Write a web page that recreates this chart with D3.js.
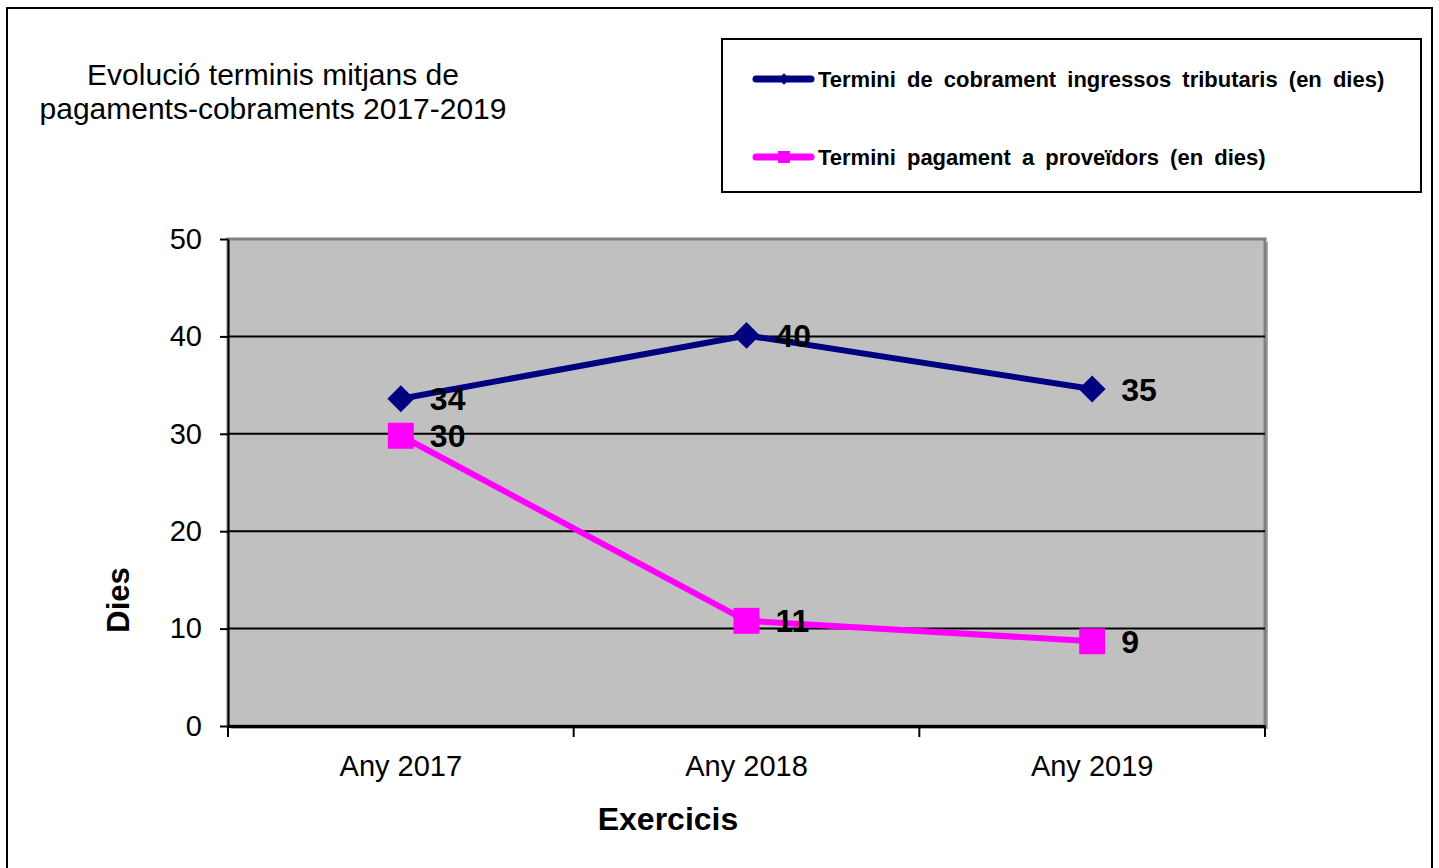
<!DOCTYPE html>
<html>
<head>
<meta charset="utf-8">
<script src="https://cdnjs.cloudflare.com/ajax/libs/d3/7.8.5/d3.min.js"></script>
<style>
  body { margin: 0; background: #fff; }
  svg { display: block; font-family: "Liberation Sans", Arial, sans-serif; }
</style>
</head>
<body>
<svg id="chart" width="1439" height="868"></svg>
<script>
// data
const categories = ['Any 2017', 'Any 2018', 'Any 2019'];
const cobrament = [33.6, 40.1, 34.6];   // Termini de cobrament ingressos tributaris
const pagament = [29.8, 10.8, 8.7];     // Termini pagament a proveïdors
const yTicks = [0, 10, 20, 30, 40, 50];
const seriesNames = ['Termini de cobrament ingressos tributaris (en dies)', 'Termini pagament a proveïdors (en dies)'];
const titleLines = ['Evolució terminis mitjans de', 'pagaments-cobraments 2017-2019'];

const svg = d3.select('#chart');
const margin = { left: 228, right: 1265, top: 239, bottom: 726 };

const x = d3.scaleBand().domain(categories).range([margin.left, margin.right]).padding(0);
const y = d3.scaleLinear().domain([0, 50]).range([margin.bottom, margin.top]);

// outer frame
svg.append('rect')
  .attr('x', 7).attr('y', 8).attr('width', 1425).attr('height', 870)
  .attr('fill', 'none').attr('stroke', '#000').attr('stroke-width', 2);

// title
svg.append('text')
  .attr('text-anchor', 'middle')
  .attr('font-size', 30)
  .selectAll('tspan').data(titleLines).enter().append('tspan')
  .attr('x', 273)
  .attr('y', (d, i) => 85 + i * 34)
  .text(d => d);

// plot background + shadowed border
svg.append('rect')
  .attr('x', margin.left + 3).attr('y', margin.top + 3)
  .attr('width', margin.right - margin.left).attr('height', margin.bottom - margin.top)
  .attr('fill', '#a8a8a8');
svg.append('rect')
  .attr('x', margin.left).attr('y', margin.top)
  .attr('width', margin.right - margin.left).attr('height', margin.bottom - margin.top)
  .attr('fill', '#c0c0c0').attr('stroke', '#808080').attr('stroke-width', 3);

// gridlines
svg.append('g')
  .selectAll('line').data(yTicks.filter(d => d > 0 && d < 50)).enter().append('line')
  .attr('x1', margin.left).attr('x2', margin.right)
  .attr('y1', d => y(d)).attr('y2', d => y(d))
  .attr('stroke', '#000').attr('stroke-width', 2);

// y axis
const yAxis = svg.append('g')
  .attr('transform', `translate(${margin.left},0)`)
  .call(d3.axisLeft(y).tickValues(yTicks).tickSize(8).tickPadding(18).tickSizeOuter(0));
yAxis.select('.domain').attr('stroke', '#000').attr('stroke-width', 2);
yAxis.selectAll('.tick line').attr('stroke', '#000').attr('stroke-width', 2);
yAxis.selectAll('.tick text').attr('font-size', 29).attr('fill', '#000')
  .attr('font-family', '"Liberation Sans", Arial, sans-serif');

// x axis
const xAxis = svg.append('g')
  .attr('transform', `translate(0,${margin.bottom})`)
  .call(d3.axisBottom(x).tickSize(0).tickPadding(29));
xAxis.select('.domain').attr('stroke', '#000').attr('stroke-width', 3);
xAxis.selectAll('.tick text').attr('font-size', 29).attr('fill', '#000')
  .attr('font-family', '"Liberation Sans", Arial, sans-serif');
// category boundary ticks
const bounds = categories.map(c => x(c)).concat([margin.right]);
xAxis.selectAll('.bound').data(bounds).enter().append('line')
  .attr('class', 'bound')
  .attr('x1', d => d).attr('x2', d => d)
  .attr('y1', 0).attr('y2', 11)
  .attr('stroke', '#000').attr('stroke-width', 2);

// axis titles
svg.append('text')
  .attr('x', 668).attr('y', 830)
  .attr('text-anchor', 'middle').attr('font-size', 32).attr('font-weight', 'bold')
  .text('Exercicis');
svg.append('text')
  .attr('transform', 'translate(129,600) rotate(-90)')
  .attr('text-anchor', 'middle').attr('font-size', 31).attr('font-weight', 'bold')
  .text('Dies');

// series
const cx = d => x(d) + x.bandwidth() / 2;
const series = [
  { name: seriesNames[0], values: cobrament, colour: '#000080', shape: 'diamond' },
  { name: seriesNames[1], values: pagament, colour: '#ff00ff', shape: 'square' }
];
const line = d3.line().x(d => cx(d.cat)).y(d => y(d.v));
const fmt = d3.format('.0f');

series.forEach(s => {
  const pts = categories.map((c, i) => ({ cat: c, v: s.values[i] }));
  svg.append('path')
    .datum(pts)
    .attr('d', line)
    .attr('fill', 'none').attr('stroke', s.colour).attr('stroke-width', 6)
    .attr('stroke-linejoin', 'round');
  const sym = d3.symbol()
    .type(d3.symbolSquare)
    .size(s.shape === 'diamond' ? 19 * 19 : 26 * 26);
  svg.append('g').selectAll('path').data(pts).enter().append('path')
    .attr('d', sym)
    .attr('transform', d => `translate(${cx(d.cat)},${y(d.v)})` + (s.shape === 'diamond' ? ' rotate(45)' : ''))
    .attr('fill', s.colour);
  svg.append('g').selectAll('text').data(pts).enter().append('text')
    .attr('x', d => cx(d.cat) + 29)
    .attr('y', d => y(d.v))
    .attr('dy', '0.36em')
    .attr('font-size', 32).attr('font-weight', 'bold')
    .text(d => fmt(d.v));
});

// legend
const legend = svg.append('g');
legend.append('rect')
  .attr('x', 722).attr('y', 39).attr('width', 699).attr('height', 153)
  .attr('fill', '#fff').attr('stroke', '#000').attr('stroke-width', 2);
const items = legend.selectAll('.item').data(series).enter().append('g')
  .attr('class', 'item')
  .attr('transform', (d, i) => `translate(0,${79 + i * 78})`);
items.append('line')
  .attr('x1', 756).attr('x2', 811).attr('y1', 0).attr('y2', 0)
  .attr('stroke', d => d.colour).attr('stroke-width', 7).attr('stroke-linecap', 'round');
items.append('path')
  .attr('d', d => d3.symbol().type(d3.symbolSquare).size(d.shape === 'diamond' ? 64 : 144)())
  .attr('transform', d => 'translate(784,0)' + (d.shape === 'diamond' ? ' rotate(45)' : ''))
  .attr('fill', d => d.colour);
items.append('text')
  .attr('x', 818).attr('dy', '0.36em')
  .attr('font-size', 22).attr('font-weight', 'bold')
  .attr('word-spacing', 5)
  .text(d => d.name);
</script>
</body>
</html>
